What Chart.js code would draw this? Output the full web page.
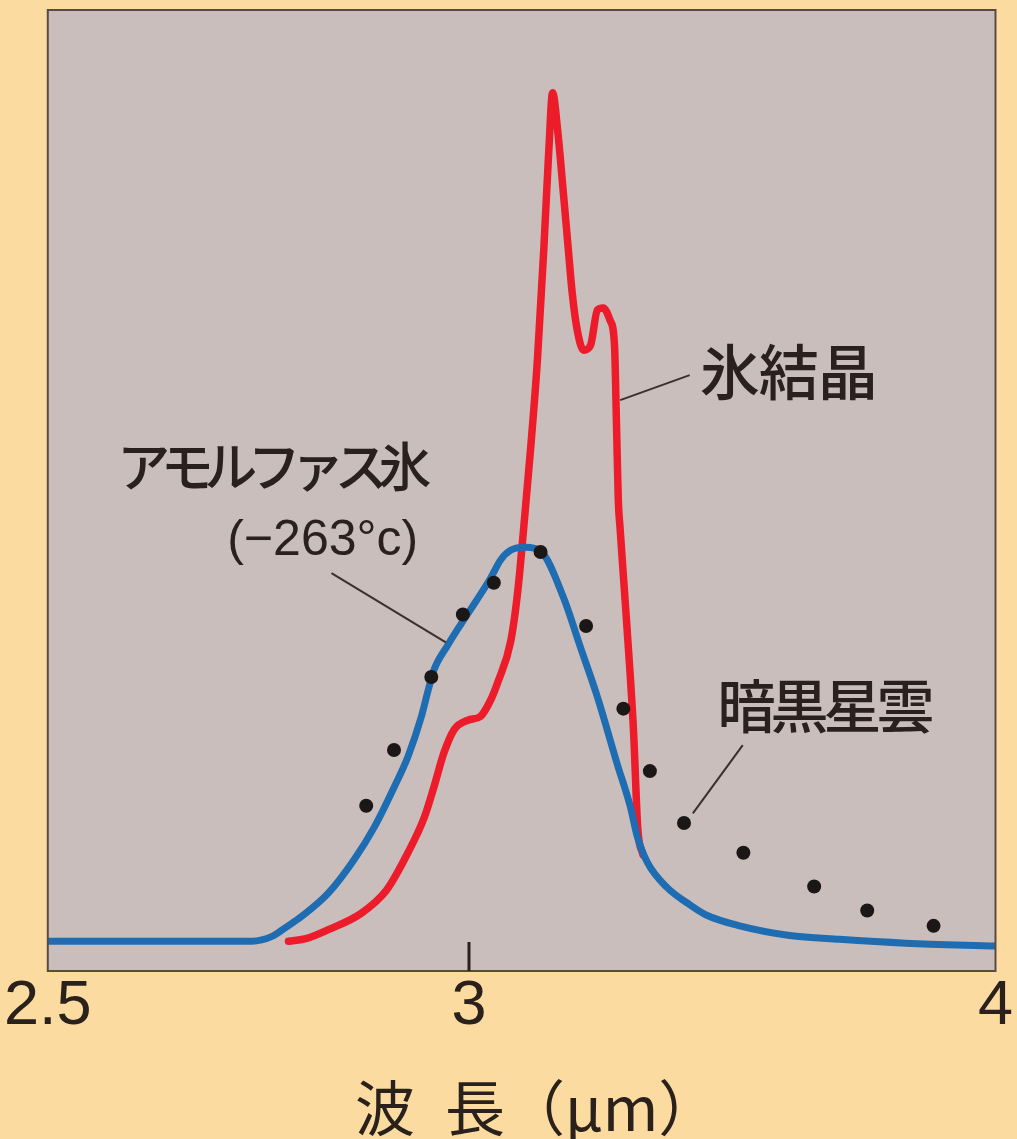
<!DOCTYPE html>
<html>
<head>
<meta charset="utf-8">
<script src="https://cdn.jsdelivr.net/npm/chart.js@4/dist/chart.umd.min.js"></script>
<style>
  html, body { margin: 0; padding: 0; background: #FCDBA0; }
  #wrap { width: 1017px; height: 1139px; position: relative; }
  canvas { display: block; }
</style>
</head>
<body>
<div id="wrap"><canvas id="chart" width="1017" height="1139"></canvas></div>
<script>
// Horizontal axis is linear in wavenumber (cm^-1), labelled in wavelength (μm).
// Crystalline ice (氷結晶)
const crystalWavenumber = [3619, 3590, 3556, 3504, 3464, 3430, 3404, 3389, 3373, 3357, 3335, 3315, 3299, 3288, 3267, 3256, 3247, 3236, 3225, 3215, 3207, 3201, 3193, 3184, 3176, 3170, 3162, 3152, 3141, 3130, 3121, 3110, 3103, 3100, 3097, 3094, 3083, 3073, 3066, 3058];
const crystalAbsorption = [3.1, 3.4, 4.3, 6.0, 8.4, 12.3, 16.0, 19.1, 22.7, 25.1, 26.1, 26.5, 28.2, 30.0, 34.4, 39.6, 45.9, 54.2, 63.6, 75.0, 85.4, 91.4, 87.5, 81.0, 75.0, 70.6, 66.7, 64.6, 65.1, 68.8, 69.0, 67.7, 65.1, 57.3, 49.0, 45.9, 35.5, 25.1, 14.7, 12.1];

// Amorphous ice at −263 °C (アモルファス氷)
const amorphousWavenumber = [4000, 3819, 3677, 3645, 3622, 3598, 3556, 3515, 3483, 3452, 3430, 3409, 3398, 3389, 3367, 3346, 3318, 3299, 3283, 3267, 3244, 3220, 3184, 3157, 3130, 3099, 3078, 3067, 3051, 3020, 2984, 2957, 2905, 2826, 2747, 2642, 2500];
const amorphousAbsorption = [3.1, 3.1, 3.1, 3.6, 4.6, 5.7, 8.1, 11.6, 15.0, 19.1, 22.3, 26.4, 29.2, 31.3, 33.9, 36.1, 38.9, 40.9, 42.8, 43.8, 44.1, 43.7, 38.9, 33.7, 28.5, 21.6, 17.1, 14.0, 11.3, 8.7, 6.9, 5.8, 4.7, 3.7, 3.3, 2.9, 2.6];

// Dark cloud observations (暗黒星雲)
const cloudWavenumber = [3496, 3452, 3393, 3343, 3294, 3220, 3148, 3089, 3047, 2993, 2899, 2787, 2703, 2598];
const cloudAbsorption = [17.2, 23.0, 30.6, 37.1, 40.4, 43.6, 35.9, 27.3, 20.8, 15.4, 12.3, 8.8, 6.3, 4.7];

// Axis ticks, in wavelength
const tickWavelengths = [2.5, 3, 4];
const tickLabels = ['2.5', '3', '4'];

const INK = '#2a211d';
const toPoints = (xs, ys) => xs.map((x, i) => ({ x: x, y: ys[i] }));

// Callout texts and leader lines, anchored in data coordinates
const notes = [
  { text: '氷結晶', x: 2968, y: 62.3, font: '500 60px "Noto Sans CJK JP"', advance: 59 },
  { text: 'アモルファス氷', x: 3890, y: 52.5, font: '500 53px "Noto Sans CJK JP"', advance: 43.5 },
  { text: '(−263°c)', x: 3716, y: 44.7, font: '50px "Liberation Sans", Arial, sans-serif' },
  { text: '暗黒星雲', x: 2940, y: 27.6, font: '500 58px "Noto Sans CJK JP"', advance: 53 }
];
const leaders = [
  [[2984, 62.0], [3094, 59.4]],
  [[3551, 41.4], [3370, 34.2]],
  [[2900, 23.5], [2979, 16.4]]
];

const framePlugin = {
  id: 'frame',
  beforeDraw(chart) {
    const { ctx, chartArea: a } = chart;
    ctx.save();
    ctx.fillStyle = '#FCDBA0';
    ctx.fillRect(0, 0, chart.width, chart.height);
    ctx.fillStyle = '#C9BEBC';
    ctx.fillRect(a.left, a.top, a.right - a.left, a.bottom - a.top);
    ctx.restore();
  },
  afterDraw(chart) {
    const { ctx, chartArea: a, scales } = chart;
    const xs = scales.x, ys = scales.y;
    ctx.save();
    // plot frame
    ctx.strokeStyle = '#5b4a40';
    ctx.lineWidth = 2;
    ctx.strokeRect(a.left, a.top, a.right - a.left, a.bottom - a.top);
    // inner tick mark at 3 μm
    ctx.strokeStyle = INK;
    ctx.lineWidth = 3;
    const tx = xs.getPixelForValue(1e4 / 3);
    ctx.beginPath();
    ctx.moveTo(tx, a.bottom);
    ctx.lineTo(tx, a.bottom - 29);
    ctx.stroke();
    // leader lines
    ctx.strokeStyle = '#3a302b';
    ctx.lineWidth = 2;
    leaders.forEach(([p, q]) => {
      ctx.beginPath();
      ctx.moveTo(xs.getPixelForValue(p[0]), ys.getPixelForValue(p[1]));
      ctx.lineTo(xs.getPixelForValue(q[0]), ys.getPixelForValue(q[1]));
      ctx.stroke();
    });
    // callout texts
    ctx.fillStyle = INK;
    ctx.textBaseline = 'middle';
    ctx.textAlign = 'left';
    notes.forEach(n => {
      ctx.font = n.font;
      const px = xs.getPixelForValue(n.x);
      const py = ys.getPixelForValue(n.y);
      if (n.advance) {
        [...n.text].forEach((ch, i) => ctx.fillText(ch, px + i * n.advance, py));
      } else {
        ctx.fillText(n.text, px, py);
      }
    });
    ctx.restore();
  }
};

new Chart(document.getElementById('chart'), {
  type: 'line',
  data: {
    datasets: [
      {
        label: '暗黒星雲',
        data: toPoints(cloudWavenumber, cloudAbsorption),
        showLine: false,
        pointRadius: 7,
        pointBackgroundColor: '#1b1716',
        pointBorderWidth: 0,
        order: 0
      },
      {
        label: 'アモルファス氷',
        data: toPoints(amorphousWavenumber, amorphousAbsorption),
        borderColor: '#1E6DB2',
        borderWidth: 7,
        pointRadius: 0,
        cubicInterpolationMode: 'monotone',
        borderCapStyle: 'round',
        borderJoinStyle: 'round',
        order: 1
      },
      {
        label: '氷結晶',
        data: toPoints(crystalWavenumber, crystalAbsorption),
        borderColor: '#EC1C2A',
        borderWidth: 7.5,
        pointRadius: 0,
        cubicInterpolationMode: 'monotone',
        borderCapStyle: 'round',
        borderJoinStyle: 'round',
        order: 2
      }
    ]
  },
  options: {
    responsive: false,
    devicePixelRatio: 1,
    animation: false,
    layout: { padding: { left: 45, right: 20, top: 10, bottom: 0 } },
    plugins: { legend: { display: false }, tooltip: { enabled: false } },
    scales: {
      x: {
        type: 'linear',
        min: 2500,
        max: 4000,
        reverse: true,
        grid: { display: false, drawTicks: false },
        border: { display: false },
        afterBuildTicks: s => { s.ticks = tickWavelengths.map(w => ({ value: 1e4 / w })); },
        afterFit: s => { s.height = 168; },
        ticks: {
          autoSkip: false,
          maxRotation: 0,
          padding: 4,
          color: INK,
          font: { family: '"Liberation Sans", Arial, sans-serif', size: 63, lineHeight: 1 },
          callback: (v, i) => tickLabels[i]
        },
        title: {
          display: true,
          text: '\u2002波\u2002長（μm）',
          color: INK,
          font: { family: '"Noto Sans CJK JP", sans-serif', size: 60, lineHeight: 1 },
          padding: { top: 0, bottom: 1 }
        }
      },
      y: { display: false, min: 0, max: 100 }
    }
  },
  plugins: [framePlugin]
});
</script>
</body>
</html>
